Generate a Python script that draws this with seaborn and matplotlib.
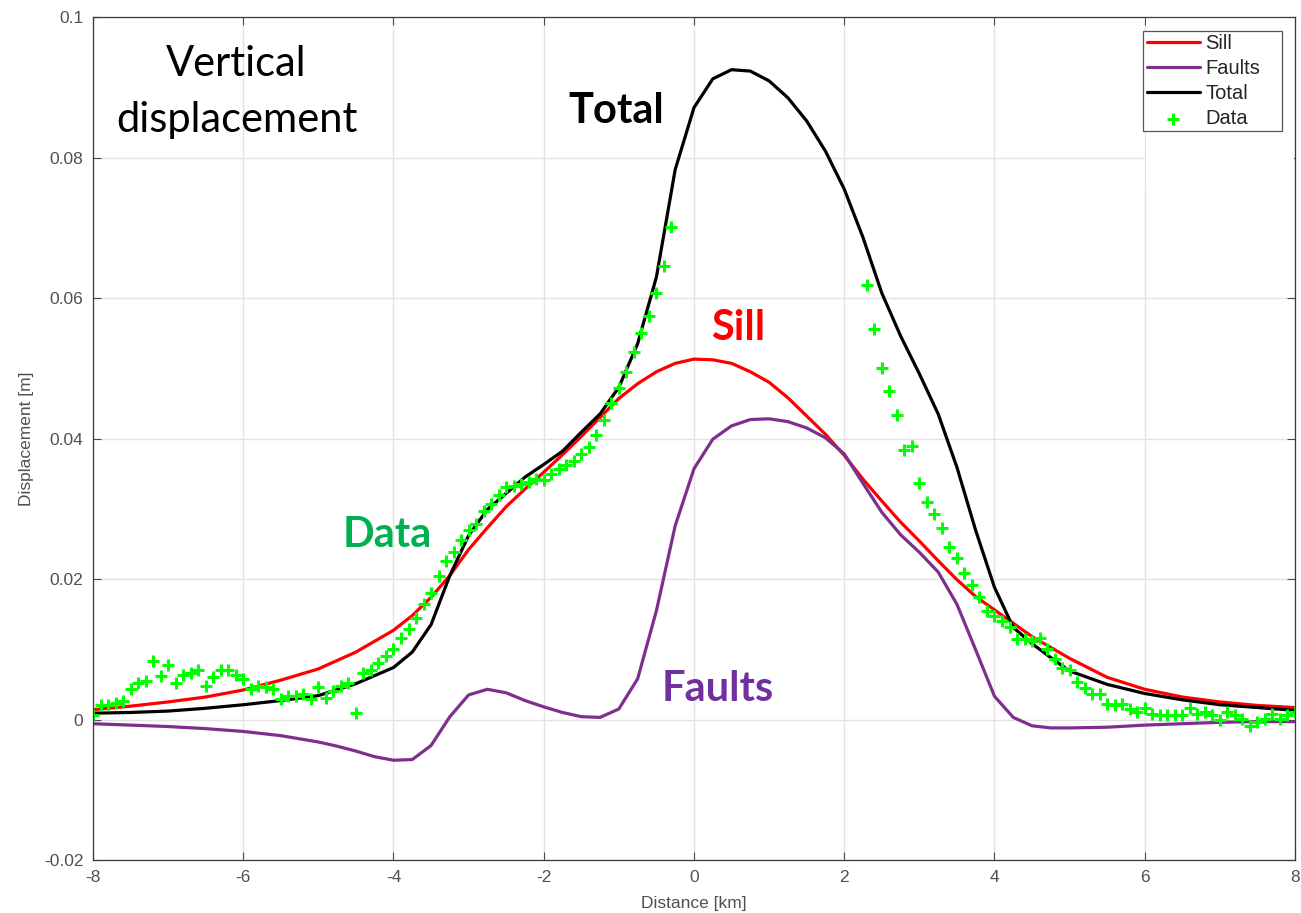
import numpy as np
import pandas as pd
import matplotlib
matplotlib.use("Agg")
import matplotlib.pyplot as plt
from matplotlib.patches import Rectangle
import seaborn as sns

# ---- model curves (distance in km, displacement in m) ----
sill_x = [-8, -7.5, -7, -6.5, -6, -5.5, -5, -4.5, -4, -3.75, -3.5, -3.25, -3, -2.75, -2.5,
          -2.25, -2, -1.75, -1.5, -1.25, -1, -0.75, -0.5, -0.25, 0, 0.25, 0.5, 0.75, 1,
          1.25, 1.5, 1.75, 2, 2.25, 2.5, 2.75, 3, 3.25, 3.5, 3.75, 4, 4.5, 5, 5.5, 6,
          6.5, 7, 7.5, 8]
sill_y = [0.0014, 0.0019, 0.0025, 0.0032, 0.0042, 0.0056, 0.0072, 0.0096, 0.0127, 0.0148,
          0.0174, 0.0205, 0.0242, 0.0273, 0.0303, 0.0328, 0.0352, 0.0377, 0.0403, 0.0430,
          0.0457, 0.0478, 0.0495, 0.0507, 0.0513, 0.0512, 0.0507, 0.0495, 0.0480, 0.0458,
          0.0432, 0.0406, 0.0376, 0.0342, 0.0311, 0.0281, 0.0254, 0.0226, 0.0199, 0.0175,
          0.0156, 0.0118, 0.0087, 0.0060, 0.0043, 0.0032, 0.0025, 0.0020, 0.0017]

faults_x = [-8, -7.5, -7, -6.5, -6, -5.5, -5, -4.75, -4.5, -4.25, -4, -3.75, -3.5, -3.25,
            -3, -2.75, -2.5, -2.25, -2, -1.75, -1.5, -1.25, -1, -0.75, -0.5, -0.25, 0,
            0.25, 0.5, 0.75, 1, 1.25, 1.5, 1.75, 2, 2.25, 2.5, 2.75, 3, 3.25, 3.5, 3.75,
            4, 4.25, 4.5, 4.75, 5, 5.5, 6, 6.5, 7, 7.5, 8]
faults_y = [-0.0006, -0.0008, -0.0010, -0.0013, -0.0017, -0.0023, -0.0032, -0.0038,
            -0.0045, -0.0053, -0.0058, -0.0057, -0.0037, 0.0004, 0.0035, 0.0043, 0.0038,
            0.0027, 0.0018, 0.0010, 0.0004, 0.0003, 0.0015, 0.0058, 0.0155, 0.0276,
            0.0357, 0.0399, 0.0418, 0.0427, 0.0428, 0.0424, 0.0415, 0.0401, 0.0378,
            0.0336, 0.0295, 0.0263, 0.0238, 0.0210, 0.0164, 0.0099, 0.0033, 0.0003,
            -0.0009, -0.0012, -0.0012, -0.0011, -0.0008, -0.0006, -0.0004, -0.0003, -0.0003]

total_x = [-8, -7.5, -7, -6.5, -6, -5.5, -5, -4.5, -4, -3.75, -3.5, -3.25, -3, -2.75,
           -2.5, -2.25, -2, -1.75, -1.5, -1.25, -1, -0.75, -0.5, -0.25, 0, 0.25, 0.5,
           0.75, 1, 1.25, 1.5, 1.75, 2, 2.25, 2.5, 2.75, 3, 3.25, 3.5, 3.75, 4, 4.25,
           4.5, 4.75, 5, 5.5, 6, 6.5, 7, 7.5, 8]
total_y = [0.0009, 0.0010, 0.0012, 0.0016, 0.0021, 0.0027, 0.0034, 0.0051, 0.0074,
           0.0096, 0.0135, 0.0205, 0.0262, 0.0299, 0.0322, 0.0345, 0.0363, 0.0382,
           0.0409, 0.0435, 0.0473, 0.0535, 0.0630, 0.0783, 0.0871, 0.0912, 0.0925,
           0.0923, 0.0909, 0.0885, 0.0852, 0.0809, 0.0755, 0.0686, 0.0607, 0.0546,
           0.0492, 0.0435, 0.0359, 0.0269, 0.0188, 0.0131, 0.0108, 0.0088, 0.0069,
           0.0050, 0.0037, 0.0028, 0.0021, 0.0017, 0.0013]

# ---- observed profile, sampled every 0.1 km (no samples between -0.2 and 2.2 km) ----
data_x_west = np.round(np.arange(-8.0, -0.25, 0.1), 1)
data_y_west = [0.0006, 0.0021, 0.0021, 0.0024, 0.0026, 0.0043, 0.0052, 0.0055, 0.0083,
               0.0062, 0.0077, 0.0052, 0.0063, 0.0066, 0.0071, 0.0048, 0.0060, 0.0070,
               0.0070, 0.0063, 0.0058, 0.0044, 0.0047, 0.0046, 0.0044, 0.0029, 0.0033,
               0.0034, 0.0037, 0.0029, 0.0046, 0.0030, 0.0040, 0.0047, 0.0052, 0.0009,
               0.0066, 0.0070, 0.0080, 0.0091, 0.0101, 0.0116, 0.0129, 0.0145, 0.0165,
               0.0180, 0.0204, 0.0226, 0.0238, 0.0255, 0.0270, 0.0279, 0.0297, 0.0307,
               0.0320, 0.0331, 0.0333, 0.0335, 0.0338, 0.0342, 0.0341, 0.0349, 0.0357,
               0.0362, 0.0368, 0.0378, 0.0388, 0.0405, 0.0427, 0.0451, 0.0472, 0.0495,
               0.0523, 0.0550, 0.0575, 0.0607, 0.0645, 0.0701]
data_x_east = np.round(np.arange(2.3, 8.05, 0.1), 1)
data_y_east = [0.0618, 0.0556, 0.0500, 0.0467, 0.0434, 0.0384, 0.0390, 0.0337, 0.0309,
               0.0293, 0.0273, 0.0245, 0.0230, 0.0209, 0.0191, 0.0175, 0.0155, 0.0148,
               0.0140, 0.0131, 0.0115, 0.0115, 0.0112, 0.0116, 0.0101, 0.0086, 0.0073,
               0.0071, 0.0054, 0.0045, 0.0037, 0.0037, 0.0022, 0.0020, 0.0022, 0.0015,
               0.0010, 0.0016, 0.0008, 0.0007, 0.0007, 0.0006, 0.0007, 0.0016, 0.0008,
               0.0010, 0.0006, -0.0001, 0.0011, 0.0006, 0.0001, -0.0009, -0.0004, 0.0001,
               0.0008, 0.0001, 0.0006, 0.0010]

x_ticks = [-8, -6, -4, -2, 0, 2, 4, 6, 8]
y_ticks = [-0.02, 0, 0.02, 0.04, 0.06, 0.08, 0.1]
y_tick_labels = ["-0.02", "0", "0.02", "0.04", "0.06", "0.08", "0.1"]

# ---- assemble long-form frames ----
curves = pd.concat([
    pd.DataFrame({"x": sill_x, "y": sill_y, "series": "Sill"}),
    pd.DataFrame({"x": faults_x, "y": faults_y, "series": "Faults"}),
    pd.DataFrame({"x": total_x, "y": total_y, "series": "Total"}),
], ignore_index=True)
obs = pd.DataFrame({
    "x": np.concatenate([data_x_west, data_x_east]),
    "y": np.concatenate([data_y_west, data_y_east]),
})

sns.set_theme(style="white")
plt.rcParams["font.family"] = ["Liberation Sans", "DejaVu Sans"]

fig = plt.figure(figsize=(13.01, 9.13), dpi=100)
ax = fig.add_axes([93 / 1301, 53 / 913, 1202 / 1301, 843 / 913])

palette = {"Sill": "#FF0000", "Faults": "#7E2F8E", "Total": "#000000"}
sns.lineplot(data=curves, x="x", y="y", hue="series", palette=palette,
             hue_order=["Sill", "Faults", "Total"], estimator=None, sort=False,
             linewidth=2.3, ax=ax, zorder=3)
sns.scatterplot(data=obs, x="x", y="y", marker="+", color="#00FF00", s=75,
                linewidth=2.2, ax=ax, zorder=4, label="Data")

ax.set_xlim(-8, 8)
ax.set_ylim(-0.02, 0.1)
ax.set_xticks(x_ticks)
ax.set_xticklabels([str(t) for t in x_ticks])
ax.set_yticks(y_ticks)
ax.set_yticklabels(y_tick_labels)
ax.grid(True, color="#e3e3e3", linewidth=1.0, zorder=0)
ax.set_axisbelow(True)

ax.tick_params(axis="both", which="both", direction="in", length=6, width=0.8,
               color="#4a4a4a", labelsize=12.5, labelcolor="#505050",
               top=True, right=True, bottom=True, left=True, pad=7)
for sp in ax.spines.values():
    sp.set_color("#3a3a3a")
    sp.set_linewidth(0.9)
    sp.set_zorder(6)

ax.set_xlabel("Distance [km]", fontsize=12.5, color="#505050", labelpad=8)
ax.set_ylabel("Displacement [m]", fontsize=12.5, color="#505050", labelpad=7)

# white panel behind the legend corner
ax.add_patch(Rectangle((6.02, 0.0759), 1.97, 0.0240, facecolor="white",
                       edgecolor="none", zorder=1.5))

# legend box drawn as its own frame, entries placed inside it
box_x0, box_y0, box_w, box_h = 0.8735, 0.8648, 0.1156, 0.1186
ax.add_patch(Rectangle((box_x0, box_y0), box_w, box_h, transform=ax.transAxes,
                       facecolor="white", edgecolor="#555555", linewidth=0.9,
                       zorder=6.5))
leg = ax.legend(loc="upper left", bbox_to_anchor=(box_x0 + 0.001, box_y0 + box_h),
                fontsize=14.5, frameon=False, borderpad=0.15, labelspacing=0.3,
                handlelength=2.6, handletextpad=0.3, borderaxespad=0)
leg.set_zorder(7)

# in-plot annotations
big = ["Lato", "DejaVu Sans"]
ax.text(-6.09, 0.0893, "Vertical\ndisplacement", fontsize=30, family=big,
        ha="center", va="center", linespacing=1.6, color="black", zorder=5)
ax.text(-1.03, 0.0866, "Total", fontsize=30, fontweight="bold", family=big,
        ha="center", va="center", color="black", zorder=5)
ax.text(0.59, 0.0557, "Sill", fontsize=30, fontweight="bold", family=big,
        ha="center", va="center", color="#FF0000", zorder=5)
ax.text(-4.08, 0.0262, "Data", fontsize=30, fontweight="bold", family=big,
        ha="center", va="center", color="#00B050", zorder=5)
ax.text(0.31, 0.0044, "Faults", fontsize=30, fontweight="bold", family=big,
        ha="center", va="center", color="#7030A0", zorder=5)

fig.savefig("out.png", dpi=100, facecolor="white")
